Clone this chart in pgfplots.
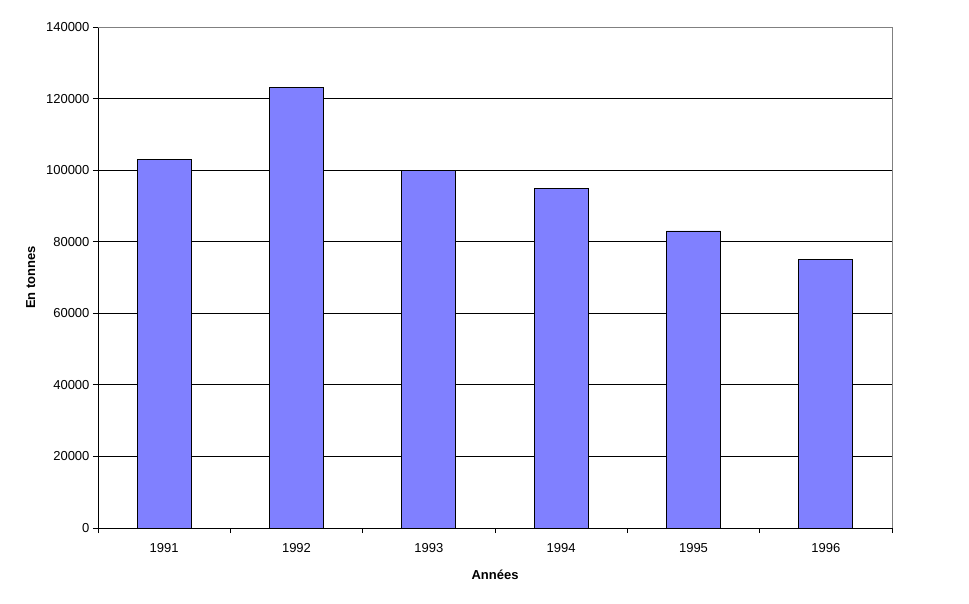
\documentclass[border=0pt]{standalone}
\usepackage{fontspec}
\setmainfont{Liberation Sans}
\usepackage{pgfplots}
\pgfplotsset{compat=1.18}
\definecolor{barblue}{HTML}{8080FF}
\begin{document}
\begin{tikzpicture}
\begin{axis}[
  scale only axis,
  width=794pt, height=501pt,
  xmin=-0.5, xmax=5.5,
  ymin=0, ymax=140000,
  axis x line*=bottom, axis y line*=left,
  axis line style={black, line width=0.9pt},
  xtick={0,1,2,3,4,5},
  xticklabels={1991,1992,1993,1994,1995,1996},
  major x tick style={draw=none},
  minor xtick={-0.5,0.5,1.5,2.5,3.5,4.5,5.5},
  minor tick length=5pt,
  minor x tick style={black, line width=0.9pt},
  ytick={0,20000,...,140000},
  major tick length=5pt,
  tick align=outside,
  ytick style={black, line width=0.9pt},
  ymajorgrids,
  grid style={black, line width=0.9pt},
  scaled y ticks=false,
  /pgf/number format/.cd, fixed, 1000 sep={}, assume math mode=true,
  /pgfplots/.cd,
  tick label style={font=\fontsize{13pt}{15pt}\selectfont},
  xticklabel style={yshift=-7pt},
  xlabel={\textbf{Années}},
  ylabel={\textbf{En tonnes}},
  label style={font=\fontsize{13pt}{15pt}\selectfont},
  xlabel style={yshift=-10pt},
  ylabel style={yshift=4pt},
  clip=false,
]
\addplot[ybar, bar width=54pt, fill=barblue, draw=black, line width=0.9pt]
  coordinates {(0,103000) (1,123000) (2,100000) (3,95000) (4,83000) (5,75000)};
\draw[gray, line width=0.9pt] (rel axis cs:0,1) -- (rel axis cs:1,1) -- (rel axis cs:1,0);
\end{axis}
\path[use as bounding box] ([shift={(-98pt,-75pt)}]current axis.south west) rectangle ([shift={(77pt,27pt)}]current axis.north east);
\end{tikzpicture}
\end{document}
